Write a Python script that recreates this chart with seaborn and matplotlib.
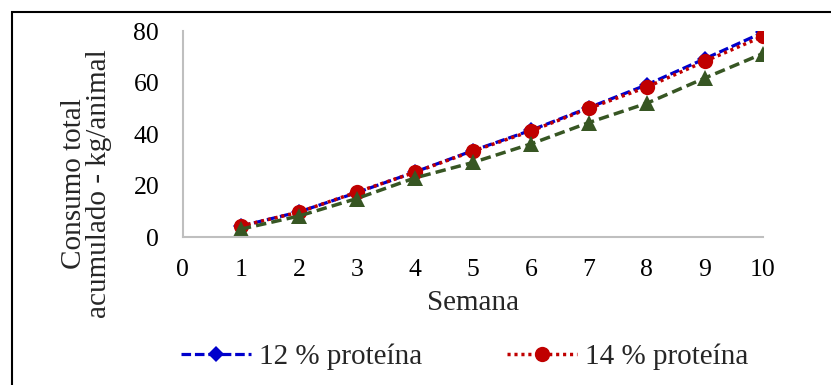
import matplotlib
matplotlib.use("Agg")
import matplotlib.pyplot as plt
import seaborn as sns
import pandas as pd
from matplotlib.patches import Rectangle

semana = [1, 2, 3, 4, 5, 6, 7, 8, 9, 10]
p12 = [4.3, 9.8, 17.3, 25.3, 33.6, 41.5, 50.3, 59.2, 69.3, 79.5]
p14 = [4.3, 9.7, 17.5, 25.2, 33.4, 41.2, 50.0, 58.3, 68.3, 78.0]
p16 = [3.1, 8.2, 15.0, 23.0, 29.0, 36.2, 44.5, 52.0, 61.8, 71.3]
labels = ["12 % proteína", "14 % proteína", "16 % proteína"]

sns.set_style("white")
plt.rcParams['font.family'] = ['Liberation Serif', 'DejaVu Serif']

fig = plt.figure(figsize=(8.31, 3.85), dpi=100)
ax = fig.add_axes([0.220, 0.384, 0.698, 0.535])

df = pd.DataFrame({"Semana": semana, "a": p12, "b": p14, "c": p16})

sns.lineplot(data=df, x="Semana", y="a", ax=ax, color="#0000CC", linestyle=(0, (3, 1.2)),
             lw=2.3, marker="D", markersize=8, markeredgewidth=0, label=labels[0])
sns.lineplot(data=df, x="Semana", y="b", ax=ax, color="#C00000", linestyle=(0, (0.9, 1.1)),
             lw=2.5, marker="o", markersize=11, markeredgewidth=0, label=labels[1])
sns.lineplot(data=df, x="Semana", y="c", ax=ax, color="#375623", linestyle=(0, (3, 1.5)),
             lw=2.5, marker="^", markersize=11, markeredgewidth=0, label=labels[2])

ax.set_xlim(0, 10)
ax.set_ylim(0, 80)
ax.set_xticks(range(0, 11))
ax.set_yticks([0, 20, 40, 60, 80])
ax.tick_params(axis='both', length=0, labelsize=18.5, colors='black')
ax.tick_params(axis='y', pad=17)
ax.tick_params(axis='x', pad=16)
for s in ['top', 'right']:
    ax.spines[s].set_visible(False)
for s in ['left', 'bottom']:
    ax.spines[s].set_color('#BFBFBF')
    ax.spines[s].set_linewidth(1.5)

ax.set_xlabel("Semana", fontsize=21, labelpad=6)
ax.set_ylabel("Consumo total\nacumulado - kg/animal", fontsize=21, linespacing=0.95)
ax.yaxis.set_label_coords(-0.122, 0.26)

handles, labs = ax.get_legend_handles_labels()
ax.legend(handles[:2], labs[:2], ncol=2, loc='center left', bbox_to_anchor=(0.186, 0.073),
          bbox_transform=fig.transFigure, frameon=False, fontsize=21, handlelength=2.4,
          handletextpad=0.28, columnspacing=2.9)

fig.patches.append(Rectangle((12/831, -0.1), 2, 1.1 - 12/385, transform=fig.transFigure,
                             fill=False, edgecolor='black', linewidth=1.5))

fig.savefig("out.png", dpi=100)
